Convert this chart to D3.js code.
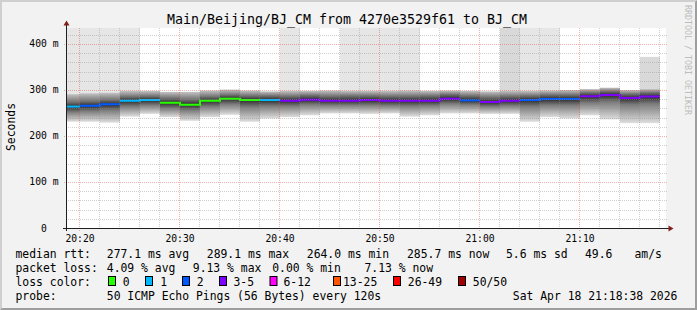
<!DOCTYPE html>
<html><head><meta charset="utf-8">
<script src="https://cdn.jsdelivr.net/npm/d3@7"></script>
<style>
html,body{margin:0;padding:0;background:#f2f2f2;}
svg{display:block;}
text{font-family:"DejaVu Sans Mono",monospace;fill:#000;white-space:pre;}
</style></head><body>
<svg id="c" width="697" height="310"></svg>
<script>
// ---------------- data ----------------
const binStart = ["20:18","20:20","20:22","20:24","20:26","20:28","20:30","20:32","20:34","20:36",
                  "20:38","20:40","20:42","20:44","20:46","20:48","20:50","20:52","20:54","20:56",
                  "20:58","21:00","21:02","21:04","21:06","21:08","21:10","21:12","21:14","21:16"];
const medianMs = [264.0,265.9,268.9,276.8,278.3,272.5,268.1,276.8,281.2,278.3,
                  278.3,276.8,279.0,276.8,276.8,278.3,276.8,276.8,276.8,281.2,
                  277.5,273.9,276.8,278.3,280.4,280.4,286.2,289.1,282.6,285.7];
const lossPct  = [2,4,4,2,2,0,0,0,0,0,
                  2,6,6,6,6,6,6,6,6,6,
                  4,9.13,6,4,4,4,6,6,6,7.13];
const smokeLo  = [231,231,229,242,248,241,233,241,246,231,
                  238,241,245,249,249,248,249,242,245,249,
                  249,248,248,231,241,238,245,236,228,228];
const smokeQ1  = [252,254,256,264,267,260,256,264,269,263,
                  265,265,268,267,267,267,266,265,266,270,
                  268,264,266,264,267,267,272,274,268,270];
const smokeQ3  = [273,275,278,285,286,282,279,285,289,287,
                  287,286,288,286,287,287,286,286,287,290,
                  287,284,286,287,289,289,294,297,291,294];
const smokeHi  = [291,293,294,298,298,296,296,299,301,299,
                  297,298,298,299,298,298,298,299,298,299,
                  298,297,298,298,299,300,302,305,300,302];
// highest ping of each bin when it lies above the smoke (Infinity = off the chart)
const maxPing  = [Infinity,Infinity,Infinity,Infinity,null,null,null,null,null,null,
                  null,Infinity,null,null,Infinity,Infinity,Infinity,Infinity,null,null,
                  null,null,Infinity,Infinity,Infinity,null,null,null,null,372];
const highPingCount = [1,1,1,1,0,0,0,0,0,0, 0,1,0,0,1,1,1,1,0,0, 0,0,2,1,1,0,0,0,0,2];

const xTickLabels = ["20:20","20:30","20:40","20:50","21:00","21:10"];
const yTickValues = [0,100,200,300,400];
const yTickLabels = ["0  ","100 m","200 m","300 m","400 m"];
const lossLabels  = ["0","1","2","3-5","6-12","13-25","26-49","50/50"];
const lossMaxCount = [0,1,2,5,12,25,49,50];

const titleText = "Main/Beijing/BJ_CM from 4270e3529f61 to BJ_CM";
const rttStats  = ["277.1 ms avg","289.1 ms max","264.0 ms min","285.7 ms now","5.6 ms sd","49.6","am/s"];
const lossStats = ["4.09 % avg","9.13 % max","0.00 % min","7.13 % now"];
const probeText = "50 ICMP Echo Pings (56 Bytes) every 120s";
const stampText = "Sat Apr 18 21:18:38 2026";

// ---------------- styles ----------------
const lossColors = ["#26ff00","#00b8ff","#0059ff","#7e00ff","#ff00ff","#ff5500","#ff0000","#a10000"];
const W = 697, H = 310;
const L = 66, R = 666, T = 28, B = 228;

const svg = d3.select("#c");
svg.append("rect").attr("width",W).attr("height",H).attr("fill","#f2f2f2");
svg.append("path").attr("d","M0,0L697,0L695,2L2,2L2,308L0,310Z").attr("fill","#cfcfcf");
svg.append("path").attr("d","M697,0L697,310L0,310L2,308L695,308L695,2Z").attr("fill","#9e9e9e");
svg.append("rect").attr("x",L).attr("y",T).attr("width",R-L).attr("height",B-T).attr("fill","#ffffff");

const pT = d3.timeParse("%H:%M:%S");
const pM = d3.timeParse("%H:%M");
const x = d3.scaleTime().domain([pT("20:18:36"), pT("21:18:36")]).range([L, R]);
const y = d3.scaleLinear().domain([0, 434.78]).range([B, T]);

const defs = svg.append("defs");
defs.append("clipPath").attr("id","plot").append("rect")
  .attr("x",L+1).attr("y",T).attr("width",R-L-1).attr("height",B-T);

const bins = binStart.map((s,i)=>{
  const t0 = pM(s);
  const t1 = d3.timeMinute.offset(t0, 2);
  const cnt = Math.round(lossPct[i]*50/100);
  const ci = lossMaxCount.findIndex(m => cnt <= m);
  return {i, x0: Math.round(x(t0)), x1: Math.round(x(t1)), med: medianMs[i],
          lo: smokeLo[i], q1: smokeQ1[i], q3: smokeQ3[i], hi: smokeHi[i],
          maxPing: maxPing[i], hc: highPingCount[i], ci};
});

const gPlot = svg.append("g").attr("clip-path","url(#plot)");

// high-ping columns
gPlot.selectAll("rect.high").data(bins.filter(d=>d.maxPing!==null)).join("rect")
  .attr("x",d=>d.x0).attr("width",d=>d.x1-d.x0)
  .attr("y",d=>d.maxPing===Infinity ? T : y(d.maxPing))
  .attr("height",d=>y(d.hi)-(d.maxPing===Infinity ? T : y(d.maxPing))+1)
  .attr("fill",d=>d.hc>1 ? "#d9d9d9" : "#e6e6e6");

// smoke gradients
bins.forEach(d=>{
  const yt = y(d.hi), yb = y(d.lo), h = yb-yt;
  const g = defs.append("linearGradient").attr("id","sg"+d.i)
    .attr("gradientUnits","userSpaceOnUse").attr("x1",0).attr("x2",0).attr("y1",yt).attr("y2",yb);
  [[d.hi,"#c4c4c4"],[d.q3,"#707070"],[d.med,"#2c2c2c"],[d.q1,"#7c7c7c"],[d.lo,"#dedede"]]
    .forEach(([v,c])=>g.append("stop").attr("offset",(y(v)-yt)/h).attr("stop-color",c));
});
gPlot.selectAll("rect.smoke").data(bins).join("rect")
  .attr("x",d=>d.x0).attr("width",d=>d.x1-d.x0)
  .attr("y",d=>y(d.hi)).attr("height",d=>y(d.lo)-y(d.hi))
  .attr("fill",d=>"url(#sg"+d.i+")");

// grid
const gridMinor = "rgba(143,143,143,0.42)", gridMajor = "rgba(222,79,79,0.45)";
const gGrid = svg.append("g");
const minorY = d3.range(20, 434.78, 20).filter(v=>v%100!==0);
gGrid.selectAll("line.my").data(minorY).join("line")
  .attr("x1",L).attr("x2",R+2).attr("y1",d=>Math.round(y(d))+0.5).attr("y2",d=>Math.round(y(d))+0.5)
  .attr("stroke",gridMinor).attr("stroke-dasharray","1,1");
const minorX = d3.timeMinute.every(2).range(x.domain()[0], x.domain()[1]).filter(t=>t.getMinutes()%10!==0);
gGrid.selectAll("line.mx").data(minorX).join("line")
  .attr("y1",T).attr("y2",B+2).attr("x1",d=>Math.round(x(d))-0.5).attr("x2",d=>Math.round(x(d))-0.5)
  .attr("stroke",gridMinor).attr("stroke-dasharray","1,1");
gGrid.selectAll("line.My").data(yTickValues.slice(1)).join("line")
  .attr("x1",L-2).attr("x2",R+2).attr("y1",d=>Math.round(y(d))+0.5).attr("y2",d=>Math.round(y(d))+0.5)
  .attr("stroke",gridMajor).attr("stroke-dasharray","1,1");
const majorX = xTickLabels.map(s=>pM(s));
gGrid.selectAll("line.Mx").data(majorX).join("line")
  .attr("y1",T).attr("y2",B+3).attr("x1",d=>Math.round(x(d))-0.5).attr("x2",d=>Math.round(x(d))-0.5)
  .attr("stroke",gridMajor).attr("stroke-dasharray","1,1");

// median lines, grouped into runs of the same loss colour
const runs = [];
bins.forEach(d=>{
  const last = runs[runs.length-1];
  if (last && last.ci===d.ci) last.pts.push(d); else runs.push({ci:d.ci, pts:[d]});
});
const line = d3.line();
gPlot.selectAll("path.med").data(runs).join("path")
  .attr("d",r=>line(r.pts.flatMap(d=>[[d.x0, y(d.med)],[d.x1, y(d.med)]])))
  .attr("fill","none").attr("stroke",r=>lossColors[r.ci]).attr("stroke-width",2);

// axes
svg.append("line").attr("x1",66.5).attr("x2",66.5).attr("y1",231).attr("y2",24).attr("stroke","#1f1f1f");
svg.append("line").attr("x1",63).attr("x2",670).attr("y1",228.5).attr("y2",228.5).attr("stroke","#1f1f1f");
svg.append("path").attr("d","M66.5,20.5L69.5,25.5L63.5,25.5Z").attr("fill","#801f1f");
svg.append("path").attr("d","M673.5,228.5L668.5,225.5L668.5,231.5Z").attr("fill","#801f1f");

// axis labels
svg.selectAll("text.yl").data(yTickValues).join("text")
  .attr("x",58.5).attr("y",d=>y(d)+3.5).attr("text-anchor","end")
  .attr("font-size","9.7px").text((d,i)=>yTickLabels[i]);
svg.selectAll("text.xl").data(xTickLabels).join("text")
  .attr("x",d=>x(pM(d))).attr("y",241.5).attr("text-anchor","middle")
  .attr("font-size","9.7px").text(d=>d);

// title & side texts
svg.append("text").attr("x",347).attr("y",24).attr("text-anchor","middle").attr("font-size","13.3px").text(titleText);
svg.append("text").attr("transform","translate(15,127) rotate(-90)").attr("text-anchor","middle")
  .attr("font-size","11.4px").text("Seconds");
svg.append("text").attr("transform","translate(685,5) rotate(90)").attr("text-anchor","start")
  .attr("font-size","8.3px").style("fill","#bdbdbd").text("RRDTOOL / TOBI OETIKER");

// legend
const fs = "11.4px";
const legendLine = (yy, items) => items.forEach(([xx, t]) =>
  svg.append("text").attr("x",xx).attr("y",yy).attr("font-size",fs).text(t));
legendLine(258, [[15.5,"median rtt:"],[106.8,rttStats[0]],[206.8,rttStats[1]],[306.8,rttStats[2]],
                 [407,rttStats[3]],[506,rttStats[4]],[585,rttStats[5]],[634.5,rttStats[6]]]);
legendLine(272, [[15.5,"packet loss:"],[106.8,lossStats[0]],[192.8,lossStats[1]],[272.2,lossStats[2]],[364.5,lossStats[3]]]);
legendLine(286, [[15.5,"loss color:"]]);
const boxX = [108.5,145.5,182.5,219.5,270,333.5,393.5,458.5];
const labX = [122.8,160.2,196.8,233.5,283.5,343,407.8,472.8];
lossLabels.forEach((lab,i)=>{
  svg.append("rect").attr("x",boxX[i]).attr("y",276.5).attr("width",7).attr("height",9)
    .attr("fill",lossColors[i]).attr("stroke","#000").attr("stroke-width",1);
  svg.append("text").attr("x",labX[i]).attr("y",286).attr("font-size",fs).text(lab);
});
legendLine(300, [[15.5,"probe:"],[106.8,probeText],[512.8,stampText]]);
</script>
</body></html>
